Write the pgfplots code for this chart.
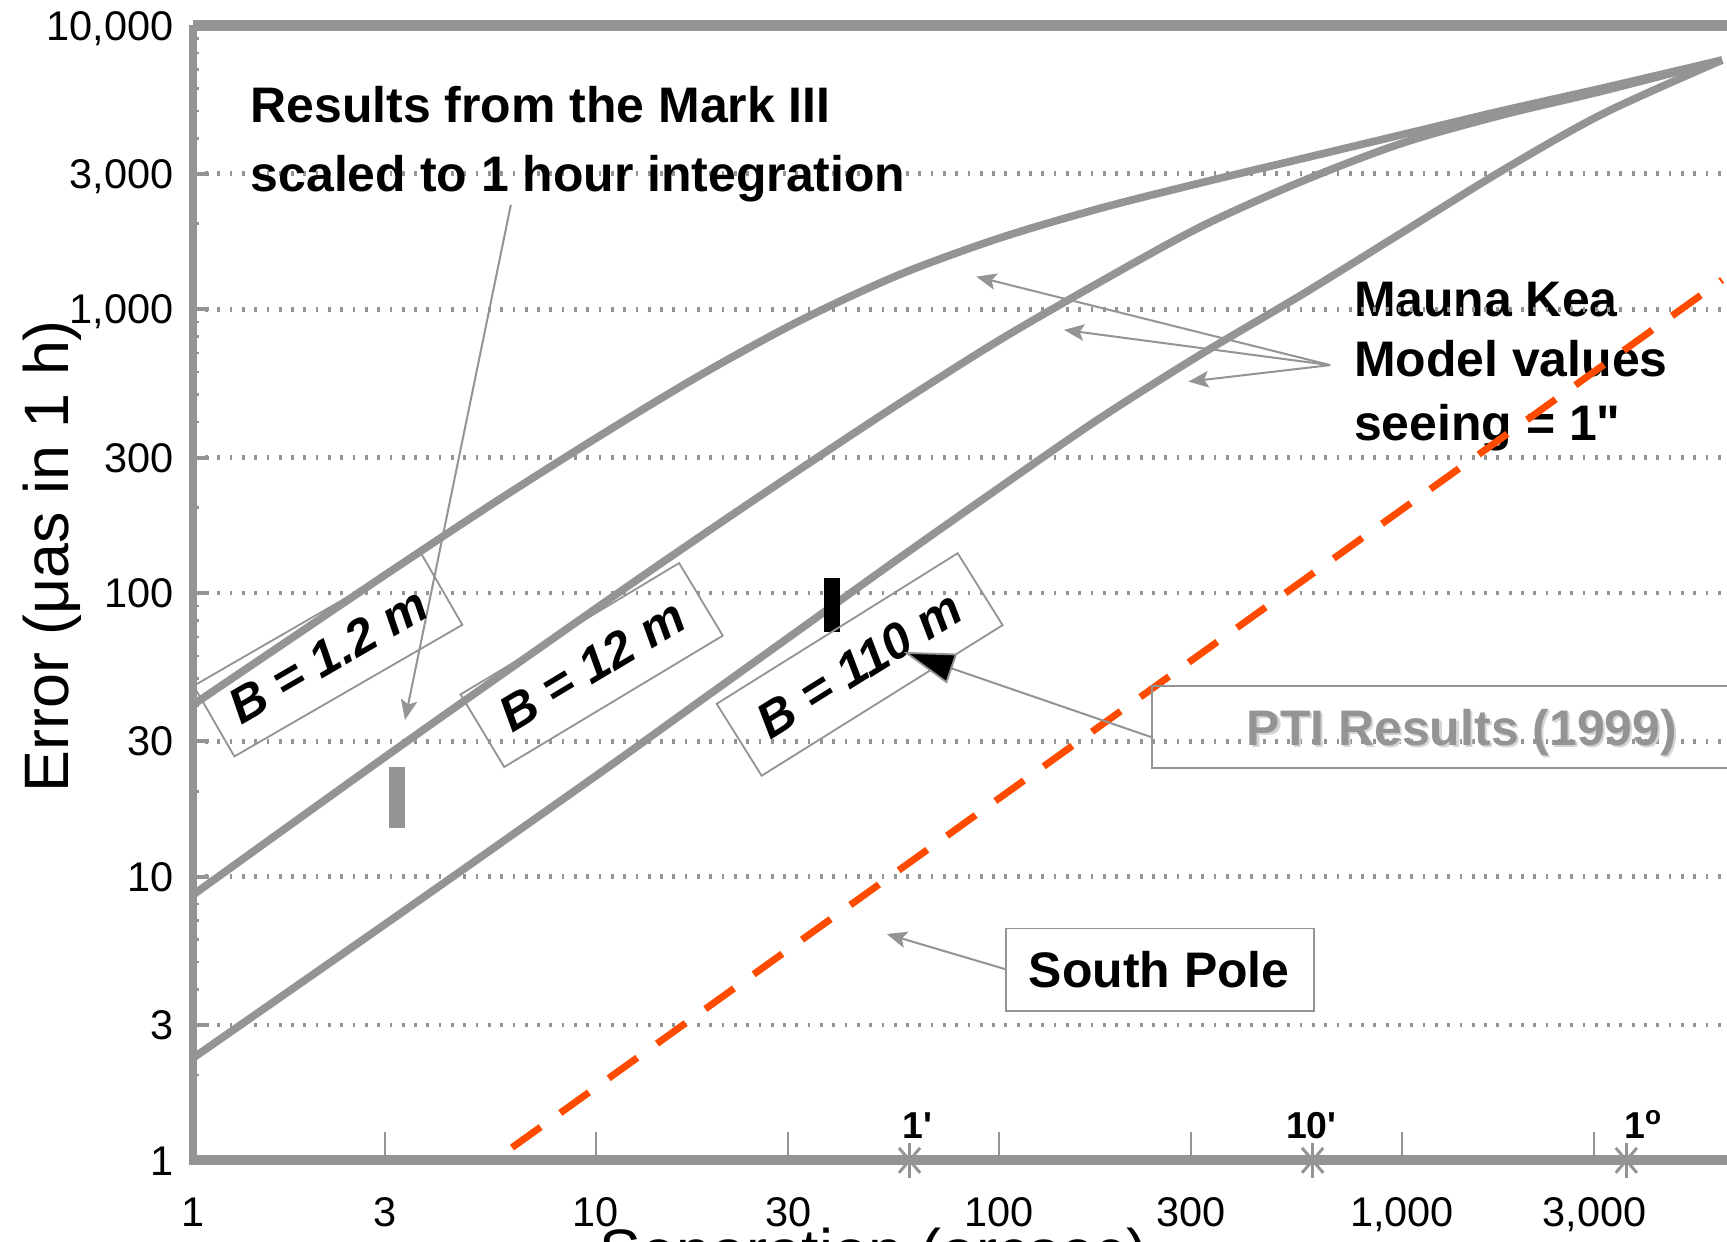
\documentclass[border=0pt]{standalone}
\usepackage{pgfplots}
\pgfplotsset{compat=1.18}
\usepackage{fontspec}
\setmainfont{Liberation Sans}
\usetikzlibrary{arrows.meta}
\definecolor{cg}{RGB}{148,148,148}
\definecolor{cor}{RGB}{255,75,0}
\definecolor{cshadow}{RGB}{212,212,212}
\newcommand{\annfont}{\fontsize{13.6}{16}\selectfont\bfseries}
\begin{document}
\begin{tikzpicture}
\useasboundingbox (-52.5pt,-22.05pt) rectangle (417.9pt,316.05pt);
\clip (-52.5pt,-22.05pt) rectangle (417.9pt,316.05pt);
% text that lies under the dashed line
\node[anchor=base west, inner sep=0pt, font=\annfont] at (316.1pt,229.8pt) {Mauna Kea};
\node[anchor=base west, inner sep=0pt, font=\annfont] at (316.1pt,213.45pt) {Model values};
\node[anchor=base west, inner sep=0pt, font=\annfont] at (316.1pt,196.2pt) {seeing = 1\textquotedbl};
\begin{axis}[
  at={(0pt,0pt)}, anchor=south west,
  scale only axis, width=417.9pt, height=309.12pt,
  xmode=log, ymode=log,
  xmin=1, xmax=6400, ymin=1, ymax=10000,
  clip=false,
  axis line style={draw=none},
  xtick={1,3,10,30,100,300,1000,3000},
  xticklabels={1,3,10,30,100,300,{1,000},{3,000}},
  ytick={1,3,10,30,100,300,1000,3000,10000},
  yticklabels={1,3,10,30,100,300,{1,000},{3,000},{10,000}},
  minor ytick={2,4,5,6,7,8,9,20,40,50,60,70,80,90,200,400,500,600,700,800,900,2000,4000,5000,6000,7000,8000,9000},
  xminorticks=false,
  xtick pos=left, ytick pos=left,
  tick align=inside,
  major tick length=4.5pt, minor tick length=1.8pt,
  x tick style={cg, line width=0.6pt, /pgfplots/major tick length=7.8pt},
  y tick style={cg, line width=1.1pt},
  minor y tick style={cg, line width=0.7pt},
  ymajorgrids=true, xmajorgrids=false,
  major grid style={cg, line width=1.3pt, dash pattern=on 0.75pt off 2.6pt},
  tick label style={font=\fontsize{11.3}{14}\selectfont},
  yticklabel style={anchor=base east, inner sep=0pt, xshift=-5pt, yshift=-4.0pt},
  xticklabel style={anchor=base, inner sep=0pt, yshift=-18.06pt},
]
\draw[cg, line width=2.1pt] (rel axis cs:0,-0.004) -- (rel axis cs:0,1);
\draw[cg, line width=2.8pt] (rel axis cs:0,0) -- (rel axis cs:1.02,0);
\draw[cg, line width=2.8pt] (rel axis cs:0,1) -- (rel axis cs:1.02,1);
% B = 1.2 m
\addplot[cg, line width=2.1pt, smooth] coordinates {
 (1,40.27) (1.778,69.98) (3.162,121.6) (5.623,208.9) (10,350.8) (17.78,575.4)
 (31.62,901.6) (56.23,1318) (100,1778) (177.8,2265) (316.2,2786) (562.3,3388)
 (1000,4121) (1778,5012) (3162,6026) (6223,7551)};
% B = 12 m
\addplot[cg, line width=2.1pt, smooth] coordinates {
 (1,8.61) (3.162,27.86) (10,88.1) (17.78,154.9) (31.62,269.2) (56.23,462.4)
 (100,776.2) (177.8,1245) (316.2,1950) (562.3,2818) (1000,3846) (1778,4842)
 (3162,5888) (6223,7551)};
% B = 110 m
\addplot[cg, line width=2.1pt, smooth] coordinates {
 (1,2.291) (3.162,7.161) (10,22.65) (17.78,40.74) (31.62,73.28) (56.23,131.8)
 (100,234.4) (177.8,412.1) (316.2,691.8) (562.3,1122) (1000,1862) (1778,3090)
 (3162,4898) (6223,7551)};
% measured results
\addplot[cg, line width=4.3pt] coordinates {(3.215,14.8) (3.215,24.4)};
\addplot[black, line width=4.4pt] coordinates {(38.53,73.0) (38.53,112.5)};
% South Pole
\addplot[cor, line width=1.9pt, dash pattern=on 9.6pt off 6.6pt] coordinates {(6.194,1.109) (6223,1268)};
% angle marks on the axis
\addplot[only marks, mark=x, mark size=4.8pt, cg, line width=0.8pt, mark options={xscale=0.85}] coordinates {(60,1) (600,1) (3600,1)};
\addplot[only marks, mark=|, mark size=4.8pt, cg, line width=0.8pt] coordinates {(60,1) (600,1) (3600,1)};
\end{axis}
% annotations
\node[anchor=base west, inner sep=0pt, font=\annfont] at (15.6pt,282.75pt) {Results from the Mark III};
\node[anchor=base west, inner sep=0pt, font=\annfont] at (15.6pt,263.85pt) {scaled to 1 hour integration};
\draw[cg, line width=0.55pt, -{Stealth[length=5.5pt, width=4.5pt, inset=1.2pt]}] (86.64pt,260.25pt) -- (57.81pt,119.94pt);
\foreach \tx/\ty in {213.4/240.7, 237.3/226.2, 271.2/212.1}
  \draw[cg, line width=0.55pt, -{Stealth[length=5.5pt, width=4.5pt, inset=1.2pt]}] (309.8pt,216.6pt) -- (\tx pt,\ty pt);
% baseline labels
\node[draw=cg, line width=0.5pt, rotate=30, minimum width=71.7pt, minimum height=22.2pt, inner sep=0pt, font=\fontsize{13.6}{16}\selectfont\bfseries\itshape] at (36.84pt,137.55pt) {B = 1.2 m};
\node[draw=cg, line width=0.5pt, rotate=31, minimum width=69.45pt, minimum height=23.07pt, inner sep=0pt, font=\fontsize{13.6}{16}\selectfont\bfseries\itshape] at (108.66pt,134.91pt) {B = 12 m};
\node[draw=cg, line width=0.5pt, rotate=32, minimum width=77.4pt, minimum height=23.1pt, inner sep=0pt, font=\fontsize{13.6}{16}\selectfont\bfseries\itshape] at (181.65pt,135.06pt) {B = 110 m};
% PTI
\draw[cg, line width=0.5pt] (261.3pt,106.95pt) rectangle (440pt,129.15pt);
\node[anchor=base, inner sep=0pt, font=\annfont, text=cshadow] at (346.3pt,112.5pt) {PTI Results (1999)};
\node[anchor=base, inner sep=0pt, font=\annfont, text=cg] at (345.7pt,113.1pt) {PTI Results (1999)};
\draw[cg, line width=0.55pt, -{Triangle[length=14pt, width=8.5pt, fill=black, line width=0.5pt]}] (261.3pt,115.2pt) -- (193.6pt,138.5pt);
% South Pole
\draw[cg, line width=0.5pt] (221.4pt,40.65pt) rectangle (305.4pt,63.15pt);
\node[anchor=base, inner sep=0pt, font=\annfont] at (263.25pt,46.95pt) {South Pole};
\draw[cg, line width=0.55pt, -{Stealth[length=5.5pt, width=4.5pt, inset=1.2pt]}] (221.4pt,52.05pt) -- (189pt,61.65pt);
% angle labels
\node[anchor=base west, inner sep=0pt, font=\fontsize{10.2}{12}\selectfont\bfseries] at (193.2pt,6pt) {1\textquotesingle};
\node[anchor=base west, inner sep=0pt, font=\fontsize{10.2}{12}\selectfont\bfseries] at (297.6pt,6pt) {10\textquotesingle};
\node[anchor=base west, inner sep=0pt, font=\fontsize{10.2}{12}\selectfont\bfseries] at (389.7pt,6pt) {1\textsuperscript{o}};
% axis titles
\node[rotate=90, anchor=base, inner sep=0pt, font=\fontsize{17.1}{20}\selectfont] at (-33.9pt,164.55pt) {Error (μas in 1 h)};
\node[anchor=base, inner sep=0pt, font=\fontsize{17.1}{20}\selectfont] at (185.4pt,-30.75pt) {Separation (arcsec)};
\end{tikzpicture}
\end{document}
